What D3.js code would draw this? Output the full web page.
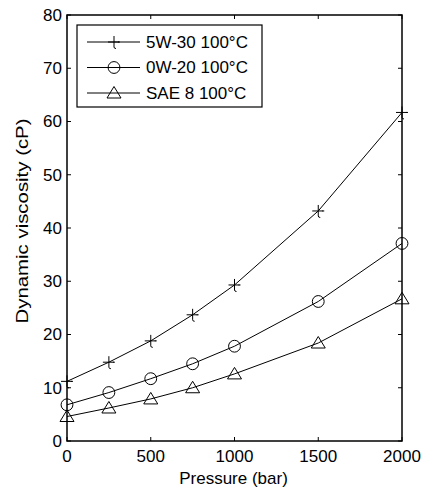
<!DOCTYPE html>
<html>
<head>
<meta charset="utf-8">
<script src="https://cdn.jsdelivr.net/npm/d3@7"></script>
<style>
  body { margin: 0; background: #fff; }
  text { font-family: "Liberation Sans", Arial, sans-serif; fill: #000; }
</style>
</head>
<body>
<script>
// pressure (bar) and viscosity (cP)
var pressure = [0, 250, 500, 750, 1000, 1500, 2000];
var visc5w30 = [11.2, 14.8, 18.8, 23.7, 29.3, 43.2, 61.7];
var visc0w20 = [6.8, 9.1, 11.7, 14.5, 17.8, 26.2, 37.1];
var viscSae8 = [4.6, 6.2, 7.9, 10.0, 12.6, 18.4, 26.7];
var seriesNames = ["5W-30 100\u00B0C", "0W-20 100\u00B0C", "SAE 8 100\u00B0C"];
var xTicks = [0, 500, 1000, 1500, 2000];
var yTicks = [0, 10, 20, 30, 40, 50, 60, 70, 80];

(function(){
  var W = 422, H = 491,
      m = {l: 67, r: 20, t: 15, b: 50};
  var svg = d3.select("body").append("svg").attr("width", W).attr("height", H);

  var x = d3.scaleLinear().domain([0, 2000]).range([m.l, W - m.r]),
      y = d3.scaleLinear().domain([0, 80]).range([H - m.b, m.t]);

  var markers = {
    plus: "M-6,0H5M0,-6V5Q0,6.5 2,6.5M4,0H6",
    circle: d3.symbol().type(d3.symbolCircle).size(110)(),
    tri: "M0,-6.5L7,5L-7,5Z"
  };
  var series = [
    {name: seriesNames[0], v: visc5w30, m: "plus"},
    {name: seriesNames[1], v: visc0w20, m: "circle"},
    {name: seriesNames[2], v: viscSae8, m: "tri"}
  ];

  var g = svg.append("g");
  var fs = 17;

  // ticks pointing inward, on all sides
  var tl = 4;
  xTicks.forEach(function(t){
    g.append("line").attr("x1", x(t)).attr("x2", x(t)).attr("y1", y(0)).attr("y2", y(0) - tl)
      .attr("stroke", "#000");
    g.append("line").attr("x1", x(t)).attr("x2", x(t)).attr("y1", y(80)).attr("y2", y(80) + tl)
      .attr("stroke", "#000");
    g.append("text").attr("x", x(t)).attr("y", y(0) + 21).attr("text-anchor", "middle")
      .attr("font-size", fs).text(t);
  });
  yTicks.forEach(function(t){
    g.append("line").attr("x1", x(0)).attr("x2", x(0) + tl).attr("y1", y(t)).attr("y2", y(t))
      .attr("stroke", "#000");
    g.append("line").attr("x1", x(2000)).attr("x2", x(2000) - tl).attr("y1", y(t)).attr("y2", y(t))
      .attr("stroke", "#000");
    g.append("text").attr("x", x(0) - 5).attr("y", y(t)).attr("dy", "0.35em")
      .attr("text-anchor", "end").attr("font-size", fs).text(t);
  });

  // box
  g.append("rect").attr("x", x(0)).attr("y", y(80)).attr("width", x(2000) - x(0))
    .attr("height", y(0) - y(80)).attr("fill", "none").attr("stroke", "#000").attr("stroke-width", 1.5);

  var line = d3.line().x(function(d, i){ return x(pressure[i]); }).y(function(d){ return y(d); });

  series.forEach(function(s){
    g.append("path").datum(s.v).attr("d", line).attr("fill", "none")
      .attr("stroke", "#000").attr("stroke-width", 1);
    g.selectAll(null).data(s.v).enter().append("path")
      .attr("d", markers[s.m])
      .attr("transform", function(d, i){ return "translate(" + x(pressure[i]) + "," + y(d) + ")"; })
      .attr("fill", "none").attr("stroke", "#000").attr("stroke-width", 1);
  });

  // legend
  var lg = g.append("g");
  lg.append("rect").attr("x", 77).attr("y", 25).attr("width", 185).attr("height", 82)
    .attr("fill", "#fff").attr("stroke", "#000").attr("stroke-width", 1.2);
  series.forEach(function(s, i){
    var ly = 42 + i * 25.5;
    lg.append("line").attr("x1", 87).attr("x2", 140).attr("y1", ly).attr("y2", ly)
      .attr("stroke", "#000");
    lg.append("path").attr("d", markers[s.m]).attr("transform", "translate(114," + ly + ")")
      .attr("fill", "none").attr("stroke", "#000");
    lg.append("text").attr("x", 146).attr("y", ly).attr("dy", "0.35em").attr("font-size", fs)
      .text(s.name);
  });

  // axis titles
  g.append("text").attr("x", (x(0) + x(2000)) / 2 - 1).attr("y", 484).attr("text-anchor", "middle")
    .attr("font-size", fs).text("Pressure (bar)");
  g.append("text").attr("transform", "translate(28,221) rotate(-90)")
    .attr("text-anchor", "middle").attr("font-size", fs)
    .attr("textLength", 205).attr("lengthAdjust", "spacingAndGlyphs")
    .text("Dynamic viscosity (cP)");
})();
</script>
</body>
</html>
